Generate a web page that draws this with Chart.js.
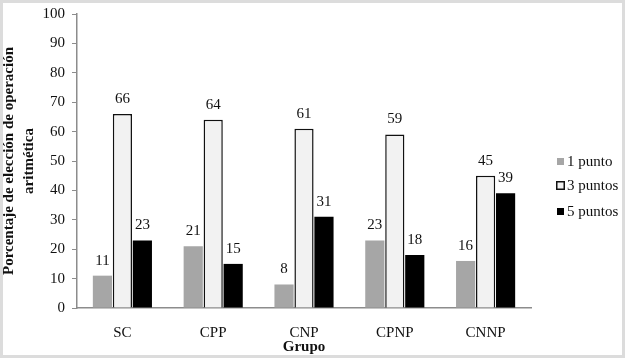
<!DOCTYPE html>
<html>
<head>
<meta charset="utf-8">
<script src="https://cdn.jsdelivr.net/npm/chart.js@4"></script>
<style>
  html, body { margin: 0; padding: 0; background: #fff; }
  #marco { width: 619px; height: 352px; border: 3px solid #dcdcdc; background: #fff; }
</style>
</head>
<body>
<div id="marco"><canvas id="grafico" width="619" height="352"></canvas></div>
<script>
// Datos
const grupos = ['SC', 'CPP', 'CNP', 'CPNP', 'CNNP'];
const unPunto = [11, 21, 8, 23, 16];
const tresPuntos = [66, 64, 61, 59, 45];
const cincoPuntos = [23, 15, 31, 18, 39];
const etiquetasY = [0, 10, 20, 30, 40, 50, 60, 70, 80, 90, 100];

const fuente = "'Liberation Serif', 'Times New Roman', serif";

// Plugin para escribir el valor encima de cada barra
const valoresPlugin = {
    id: 'valores',
    afterDatasetsDraw(chart) {
        const ctx = chart.ctx;
        ctx.save();
        ctx.font = '15px ' + fuente;
        ctx.fillStyle = '#111';
        ctx.textAlign = 'center';
        ctx.textBaseline = 'middle';
        chart.data.datasets.forEach((ds, i) => {
            chart.getDatasetMeta(i).data.forEach((bar, j) => {
                ctx.fillText(ds.data[j], bar.x, bar.y - 15);
            });
        });
        ctx.restore();
    }
};

// Leyenda dibujada a mano a la derecha (cuadritos pequeños)
const leyendaPlugin = {
    id: 'leyenda',
    afterDraw(chart) {
        const ctx = chart.ctx;
        const xCaja = 553, xTexto = 564;
        const yItems = [158, 182, 208];
        ctx.save();
        ctx.font = '15px ' + fuente;
        ctx.textAlign = 'left';
        ctx.textBaseline = 'middle';
        chart.data.datasets.forEach((ds, i) => {
            const y = yItems[i];
            ctx.fillStyle = ds.backgroundColor;
            ctx.fillRect(xCaja + 1, y - 3, 7, 7);
            if (ds.borderWidth) {
                ctx.strokeStyle = ds.borderColor;
                ctx.lineWidth = 1.5;
                ctx.strokeRect(xCaja + 0.75, y - 3.25, 7.5, 7.5);
            }
            ctx.fillStyle = '#111';
            ctx.fillText(ds.label, xTexto, y + 1);
        });
        ctx.restore();
    }
};

const ctx = document.getElementById('grafico').getContext('2d');
new Chart(ctx, {
    type: 'bar',
    data: {
        labels: grupos,
        datasets: [
            { label: '1 punto', data: unPunto, backgroundColor: '#a6a6a6', borderColor: '#a6a6a6', borderWidth: 0 },
            { label: '3 puntos', data: tresPuntos, backgroundColor: '#f2f2f2', borderColor: '#111', borderWidth: 1.5 },
            { label: '5 puntos', data: cincoPuntos, backgroundColor: '#000', borderColor: '#000', borderWidth: 0 }
        ]
    },
    options: {
        responsive: false,
        animation: false,
        layout: { padding: { top: 0, right: 91, left: 0, bottom: 0 } },
        datasets: { bar: { barPercentage: 0.96, categoryPercentage: 0.66 } },
        plugins: {
            legend: { display: false },
            tooltip: { enabled: false }
        },
        scales: {
            x: {
                afterFit(scale) { scale.height = 47; },
                grid: { display: false, drawTicks: false },
                border: { color: '#8c8c8c', width: 1.5 },
                ticks: { font: { family: fuente, size: 15 }, color: '#111', padding: 16 },
                title: { display: true, text: 'Grupo', font: { family: fuente, size: 15, weight: 'bold' }, color: '#111', padding: { top: 0, bottom: -1 } }
            },
            y: {
                min: 0,
                max: 100,
                afterBuildTicks(axis) { axis.ticks = etiquetasY.map(v => ({ value: v })); },
                afterFit(scale) { scale.width = 74; scale.paddingTop = 11; },
                grid: { drawOnChartArea: false, tickLength: 5, color: '#8c8c8c' },
                border: { color: '#8c8c8c', width: 1.5 },
                ticks: { font: { family: fuente, size: 15 }, color: '#111', padding: 7 },
                title: {
                    display: true,
                    text: ['Porcentaje de elección de operación', 'aritmética'],
                    font: { family: fuente, size: 15, weight: 'bold', lineHeight: 1.35 },
                    color: '#111',
                    padding: { top: -4, bottom: 0 }
                }
            }
        }
    },
    plugins: [valoresPlugin, leyendaPlugin]
});
</script>
</body>
</html>
